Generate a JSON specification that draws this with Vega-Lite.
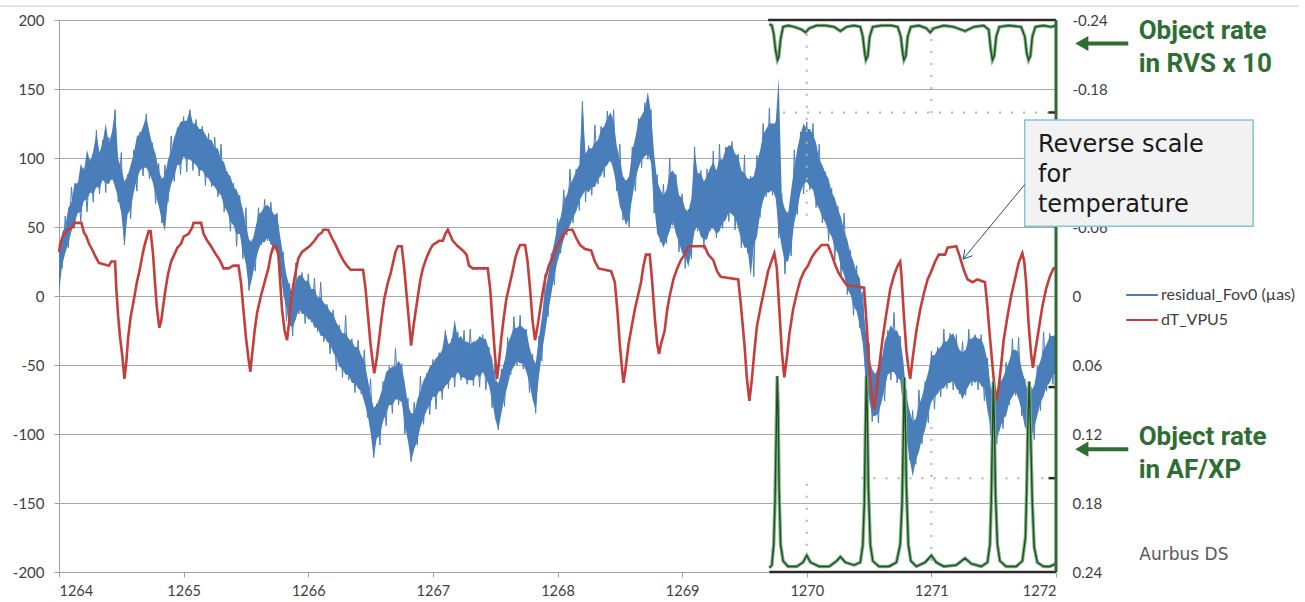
{
"$schema": "https://vega.github.io/schema/vega-lite/v6.json",
"width": 997, "height": 552,
"autosize": {"type": "none"},
"padding": {"left": 59, "top": 20, "right": 249, "bottom": 30},
"background": "white",
"config": {
  "view": {"stroke": null},
  "font": "Lato",
  "axis": {"labelFont": "Lato", "labelColor": "#404040", "labelFontSize": 15, "domainColor": "#a0a0a0", "tickColor": "#a0a0a0", "gridColor": "#a8a8a8", "gridWidth": 1}
},
"datasets": {
"blue": [
{"t":1264,"lo":2,"hi":28,"z":33},{"t":1264.025,"lo":22,"hi":46,"z":20},{"t":1264.05,"lo":31,"hi":50,"z":58},{"t":1264.075,"lo":38,"hi":64,"z":35},{"t":1264.1,"lo":47,"hi":68,"z":79},{"t":1264.125,"lo":53,"hi":82,"z":49},{"t":1264.15,"lo":60,"hi":81,"z":82},{"t":1264.175,"lo":61,"hi":96,"z":54},{"t":1264.2,"lo":69,"hi":90,"z":93},{"t":1264.225,"lo":70,"hi":106,"z":61},
{"t":1264.25,"lo":75,"hi":97,"z":99},{"t":1264.275,"lo":74,"hi":105,"z":68},{"t":1264.3,"lo":79,"hi":118,"z":120},{"t":1264.325,"lo":78,"hi":104,"z":74},{"t":1264.35,"lo":84,"hi":111,"z":113},{"t":1264.375,"lo":82,"hi":125,"z":75},{"t":1264.4,"lo":81,"hi":110,"z":115},{"t":1264.425,"lo":86,"hi":119,"z":84},{"t":1264.45,"lo":79,"hi":135,"z":135},{"t":1264.475,"lo":71,"hi":99,"z":68},
{"t":1264.5,"lo":60,"hi":93,"z":104},{"t":1264.525,"lo":37,"hi":83,"z":37},{"t":1264.55,"lo":59,"hi":87,"z":88},{"t":1264.575,"lo":63,"hi":95,"z":56},{"t":1264.6,"lo":75,"hi":103,"z":106},{"t":1264.625,"lo":85,"hi":116,"z":76},{"t":1264.65,"lo":91,"hi":117,"z":119},{"t":1264.675,"lo":93,"hi":123,"z":87},{"t":1264.7,"lo":93,"hi":130,"z":132},{"t":1264.725,"lo":89,"hi":119,"z":85},
{"t":1264.75,"lo":83,"hi":109,"z":111},{"t":1264.775,"lo":74,"hi":103,"z":67},{"t":1264.8,"lo":65,"hi":91,"z":96},{"t":1264.825,"lo":55,"hi":85,"z":53},{"t":1264.85,"lo":47,"hi":87,"z":95},{"t":1264.875,"lo":71,"hi":99,"z":68},{"t":1264.9,"lo":81,"hi":105,"z":116},{"t":1264.925,"lo":87,"hi":115,"z":83},{"t":1264.95,"lo":95,"hi":121,"z":122},{"t":1264.975,"lo":95,"hi":126,"z":88},
{"t":1265,"lo":101,"hi":127,"z":130},{"t":1265.025,"lo":99,"hi":127,"z":90},{"t":1265.05,"lo":99,"hi":135,"z":135},{"t":1265.075,"lo":97,"hi":125,"z":91},{"t":1265.1,"lo":95,"hi":125,"z":128},{"t":1265.125,"lo":91,"hi":121,"z":87},{"t":1265.15,"lo":91,"hi":121,"z":123},{"t":1265.175,"lo":87,"hi":117,"z":80},{"t":1265.2,"lo":85,"hi":113,"z":118},{"t":1265.225,"lo":81,"hi":113,"z":79},
{"t":1265.25,"lo":79,"hi":107,"z":115},{"t":1265.275,"lo":75,"hi":107,"z":72},{"t":1265.3,"lo":73,"hi":99,"z":110},{"t":1265.325,"lo":65,"hi":97,"z":61},{"t":1265.35,"lo":61,"hi":89,"z":90},{"t":1265.375,"lo":54,"hi":87,"z":47},{"t":1265.4,"lo":51,"hi":79,"z":82},{"t":1265.425,"lo":45,"hi":77,"z":36},{"t":1265.45,"lo":45,"hi":71,"z":73},{"t":1265.475,"lo":33,"hi":63,"z":27},
{"t":1265.5,"lo":23,"hi":51,"z":64},{"t":1265.525,"lo":4,"hi":41,"z":4},{"t":1265.55,"lo":13,"hi":39,"z":41},{"t":1265.575,"lo":25,"hi":49,"z":18},{"t":1265.6,"lo":33,"hi":59,"z":64},{"t":1265.625,"lo":39,"hi":61,"z":37},{"t":1265.65,"lo":39,"hi":65,"z":70},{"t":1265.675,"lo":43,"hi":66,"z":40},{"t":1265.7,"lo":37,"hi":63,"z":68},{"t":1265.725,"lo":37,"hi":59,"z":33},
{"t":1265.75,"lo":31,"hi":59,"z":60},{"t":1265.775,"lo":19,"hi":43,"z":12},{"t":1265.8,"lo":1,"hi":29,"z":32},{"t":1265.825,"lo":-9,"hi":15,"z":-18},{"t":1265.85,"lo":-21,"hi":7,"z":9},{"t":1265.875,"lo":-23,"hi":1,"z":-29},{"t":1265.9,"lo":-17,"hi":11,"z":24},{"t":1265.925,"lo":-9,"hi":15,"z":-13},{"t":1265.95,"lo":-13,"hi":15,"z":17},{"t":1265.975,"lo":-13,"hi":11,"z":-20},
{"t":1266,"lo":-17,"hi":11,"z":16},{"t":1266.025,"lo":-17,"hi":5,"z":-19},{"t":1266.05,"lo":-23,"hi":5,"z":13},{"t":1266.075,"lo":-23,"hi":-1,"z":-26},{"t":1266.1,"lo":-29,"hi":-1,"z":10},{"t":1266.125,"lo":-29,"hi":-5,"z":-33},{"t":1266.15,"lo":-33,"hi":-7,"z":-6},{"t":1266.175,"lo":-35,"hi":-11,"z":-42},{"t":1266.2,"lo":-41,"hi":-13,"z":-10},{"t":1266.225,"lo":-45,"hi":-19,"z":-54},
{"t":1266.25,"lo":-51,"hi":-23,"z":-21},{"t":1266.275,"lo":-53,"hi":-27,"z":-59},{"t":1266.3,"lo":-57,"hi":-27,"z":-14},{"t":1266.325,"lo":-57,"hi":-31,"z":-61},{"t":1266.35,"lo":-63,"hi":-33,"z":-31},{"t":1266.375,"lo":-63,"hi":-37,"z":-70},{"t":1266.4,"lo":-67,"hi":-37,"z":-32},{"t":1266.425,"lo":-69,"hi":-43,"z":-71},{"t":1266.45,"lo":-77,"hi":-47,"z":-39},{"t":1266.475,"lo":-85,"hi":-59,"z":-88},
{"t":1266.5,"lo":-99,"hi":-71,"z":-60},{"t":1266.525,"lo":-117,"hi":-81,"z":-117},{"t":1266.55,"lo":-103,"hi":-79,"z":-78},{"t":1266.575,"lo":-101,"hi":-73,"z":-108},{"t":1266.6,"lo":-91,"hi":-65,"z":-62},{"t":1266.625,"lo":-85,"hi":-55,"z":-94},{"t":1266.65,"lo":-79,"hi":-53,"z":-51},{"t":1266.675,"lo":-79,"hi":-51,"z":-85},{"t":1266.7,"lo":-75,"hi":-51,"z":-38},{"t":1266.725,"lo":-75,"hi":-47,"z":-79},
{"t":1266.75,"lo":-77,"hi":-51,"z":-49},{"t":1266.775,"lo":-93,"hi":-63,"z":-100},{"t":1266.8,"lo":-105,"hi":-79,"z":-74},{"t":1266.825,"lo":-120,"hi":-85,"z":-120},{"t":1266.85,"lo":-111,"hi":-85,"z":-77},{"t":1266.875,"lo":-105,"hi":-75,"z":-108},{"t":1266.9,"lo":-95,"hi":-69,"z":-58},{"t":1266.925,"lo":-89,"hi":-61,"z":-93},{"t":1266.95,"lo":-83,"hi":-57,"z":-56},{"t":1266.975,"lo":-79,"hi":-51,"z":-86},
{"t":1267,"lo":-73,"hi":-49,"z":-46},{"t":1267.025,"lo":-73,"hi":-45,"z":-82},{"t":1267.05,"lo":-69,"hi":-43,"z":-41},{"t":1267.075,"lo":-69,"hi":-39,"z":-75},{"t":1267.1,"lo":-65,"hi":-25,"z":-25},{"t":1267.125,"lo":-63,"hi":-35,"z":-67},{"t":1267.15,"lo":-59,"hi":-33,"z":-31},{"t":1267.175,"lo":-59,"hi":-17,"z":-66},{"t":1267.2,"lo":-55,"hi":-31,"z":-26},{"t":1267.225,"lo":-59,"hi":-29,"z":-61},
{"t":1267.25,"lo":-59,"hi":-33,"z":-25},{"t":1267.275,"lo":-61,"hi":-33,"z":-64},{"t":1267.3,"lo":-61,"hi":-35,"z":-24},{"t":1267.325,"lo":-61,"hi":-33,"z":-65},{"t":1267.35,"lo":-57,"hi":-33,"z":-32},{"t":1267.375,"lo":-59,"hi":-29,"z":-66},{"t":1267.4,"lo":-55,"hi":-31,"z":-28},{"t":1267.425,"lo":-59,"hi":-31,"z":-68},{"t":1267.45,"lo":-65,"hi":-39,"z":-37},{"t":1267.475,"lo":-75,"hi":-45,"z":-81},
{"t":1267.5,"lo":-89,"hi":-61,"z":-48},{"t":1267.525,"lo":-97,"hi":-63,"z":-97},{"t":1267.55,"lo":-85,"hi":-55,"z":-53},{"t":1267.575,"lo":-73,"hi":-47,"z":-80},{"t":1267.6,"lo":-65,"hi":-35,"z":-30},{"t":1267.625,"lo":-55,"hi":-29,"z":-57},{"t":1267.65,"lo":-51,"hi":-23,"z":-15},{"t":1267.675,"lo":-47,"hi":-23,"z":-50},{"t":1267.7,"lo":-49,"hi":-21,"z":-14},{"t":1267.725,"lo":-49,"hi":-23,"z":-53},
{"t":1267.75,"lo":-55,"hi":-25,"z":-24},{"t":1267.775,"lo":-63,"hi":-37,"z":-70},{"t":1267.8,"lo":-75,"hi":-45,"z":-42},{"t":1267.825,"lo":-83,"hi":-49,"z":-85},{"t":1267.85,"lo":-59,"hi":-31,"z":-29},{"t":1267.875,"lo":-41,"hi":-15,"z":-47},{"t":1267.9,"lo":-27,"hi":3,"z":16},{"t":1267.925,"lo":-11,"hi":15,"z":-15},{"t":1267.95,"lo":1,"hi":29,"z":31},{"t":1267.975,"lo":15,"hi":39,"z":8},
{"t":1268,"lo":25,"hi":51,"z":56},{"t":1268.025,"lo":33,"hi":57,"z":31},{"t":1268.05,"lo":41,"hi":69,"z":77},{"t":1268.075,"lo":47,"hi":73,"z":44},{"t":1268.1,"lo":51,"hi":81,"z":92},{"t":1268.125,"lo":57,"hi":85,"z":53},{"t":1268.15,"lo":61,"hi":91,"z":92},{"t":1268.175,"lo":69,"hi":95,"z":62},{"t":1268.2,"lo":73,"hi":141,"z":141},{"t":1268.225,"lo":77,"hi":103,"z":68},
{"t":1268.25,"lo":75,"hi":107,"z":109},{"t":1268.275,"lo":79,"hi":107,"z":73},{"t":1268.3,"lo":79,"hi":111,"z":124},{"t":1268.325,"lo":85,"hi":113,"z":81},{"t":1268.35,"lo":87,"hi":121,"z":123},{"t":1268.375,"lo":93,"hi":123,"z":86},{"t":1268.4,"lo":95,"hi":129,"z":134},{"t":1268.425,"lo":99,"hi":133,"z":97},{"t":1268.45,"lo":91,"hi":127,"z":135},{"t":1268.475,"lo":79,"hi":109,"z":76},
{"t":1268.5,"lo":65,"hi":99,"z":110},{"t":1268.525,"lo":59,"hi":87,"z":55},{"t":1268.55,"lo":51,"hi":83,"z":84},{"t":1268.575,"lo":57,"hi":87,"z":50},{"t":1268.6,"lo":71,"hi":105,"z":108},{"t":1268.625,"lo":85,"hi":115,"z":76},{"t":1268.65,"lo":93,"hi":127,"z":129},{"t":1268.675,"lo":99,"hi":131,"z":93},{"t":1268.7,"lo":101,"hi":135,"z":140},{"t":1268.725,"lo":103,"hi":148,"z":99},
{"t":1268.75,"lo":97,"hi":133,"z":135},{"t":1268.775,"lo":67,"hi":103,"z":60},{"t":1268.8,"lo":45,"hi":83,"z":88},{"t":1268.825,"lo":41,"hi":77,"z":39},{"t":1268.85,"lo":35,"hi":73,"z":81},{"t":1268.875,"lo":41,"hi":77,"z":38},{"t":1268.9,"lo":47,"hi":89,"z":100},{"t":1268.925,"lo":55,"hi":91,"z":51},{"t":1268.95,"lo":45,"hi":87,"z":88},{"t":1268.975,"lo":39,"hi":73,"z":32},
{"t":1269,"lo":31,"hi":71,"z":74},{"t":1269.025,"lo":29,"hi":63,"z":20},{"t":1269.05,"lo":21,"hi":61,"z":63},{"t":1269.075,"lo":33,"hi":71,"z":27},{"t":1269.1,"lo":47,"hi":105,"z":108},{"t":1269.125,"lo":51,"hi":89,"z":47},{"t":1269.15,"lo":43,"hi":89,"z":91},{"t":1269.175,"lo":41,"hi":83,"z":34},{"t":1269.2,"lo":41,"hi":87,"z":92},{"t":1269.225,"lo":49,"hi":93,"z":47},
{"t":1269.25,"lo":49,"hi":97,"z":105},{"t":1269.275,"lo":45,"hi":91,"z":42},{"t":1269.3,"lo":47,"hi":99,"z":110},{"t":1269.325,"lo":53,"hi":99,"z":49},{"t":1269.35,"lo":55,"hi":107,"z":108},{"t":1269.375,"lo":61,"hi":109,"z":54},{"t":1269.4,"lo":59,"hi":109,"z":112},{"t":1269.425,"lo":57,"hi":103,"z":48},{"t":1269.45,"lo":49,"hi":101,"z":103},{"t":1269.475,"lo":41,"hi":91,"z":35},
{"t":1269.5,"lo":35,"hi":89,"z":102},{"t":1269.525,"lo":35,"hi":85,"z":31},{"t":1269.55,"lo":14,"hi":85,"z":87},{"t":1269.575,"lo":37,"hi":87,"z":14},{"t":1269.6,"lo":43,"hi":97,"z":102},{"t":1269.625,"lo":59,"hi":105,"z":57},{"t":1269.65,"lo":69,"hi":117,"z":125},{"t":1269.675,"lo":75,"hi":121,"z":72},{"t":1269.7,"lo":75,"hi":125,"z":136},{"t":1269.725,"lo":77,"hi":125,"z":73},
{"t":1269.75,"lo":71,"hi":125,"z":126},{"t":1269.775,"lo":49,"hi":158,"z":42},{"t":1269.8,"lo":35,"hi":71,"z":74},{"t":1269.825,"lo":25,"hi":63,"z":16},{"t":1269.85,"lo":25,"hi":59,"z":61},{"t":1269.875,"lo":35,"hi":77,"z":29},{"t":1269.9,"lo":53,"hi":93,"z":106},{"t":1269.925,"lo":63,"hi":107,"z":59},{"t":1269.95,"lo":75,"hi":117,"z":119},{"t":1269.975,"lo":81,"hi":125,"z":74},
{"t":1270,"lo":83,"hi":121,"z":126},{"t":1270.025,"lo":79,"hi":121,"z":77},{"t":1270.05,"lo":77,"hi":117,"z":125},{"t":1270.075,"lo":67,"hi":111,"z":64},{"t":1270.1,"lo":63,"hi":99,"z":110},{"t":1270.125,"lo":57,"hi":95,"z":53},{"t":1270.15,"lo":53,"hi":89,"z":90},{"t":1270.175,"lo":47,"hi":85,"z":40},{"t":1270.2,"lo":43,"hi":75,"z":78},{"t":1270.225,"lo":35,"hi":71,"z":26},
{"t":1270.25,"lo":31,"hi":63,"z":65},{"t":1270.275,"lo":21,"hi":57,"z":15},{"t":1270.3,"lo":15,"hi":47,"z":60},{"t":1270.325,"lo":5,"hi":41,"z":1},{"t":1270.35,"lo":1,"hi":31,"z":33},{"t":1270.375,"lo":-7,"hi":25,"z":-14},{"t":1270.4,"lo":-11,"hi":17,"z":22},{"t":1270.425,"lo":-21,"hi":13,"z":-23},{"t":1270.45,"lo":-35,"hi":-5,"z":3},{"t":1270.475,"lo":-63,"hi":-27,"z":-66},
{"t":1270.5,"lo":-75,"hi":-45,"z":-34},{"t":1270.525,"lo":-87,"hi":-53,"z":-91},{"t":1270.55,"lo":-87,"hi":-57,"z":-56},{"t":1270.575,"lo":-85,"hi":-51,"z":-92},{"t":1270.6,"lo":-77,"hi":-47,"z":-44},{"t":1270.625,"lo":-67,"hi":-33,"z":-76},{"t":1270.65,"lo":-57,"hi":-27,"z":-25},{"t":1270.675,"lo":-55,"hi":-21,"z":-61},{"t":1270.7,"lo":-55,"hi":-25,"z":-12},{"t":1270.725,"lo":-59,"hi":-25,"z":-63},
{"t":1270.75,"lo":-61,"hi":-31,"z":-29},{"t":1270.775,"lo":-81,"hi":-47,"z":-88},{"t":1270.8,"lo":-103,"hi":-73,"z":-68},{"t":1270.825,"lo":-117,"hi":-83,"z":-119},{"t":1270.85,"lo":-131,"hi":-91,"z":-83},{"t":1270.875,"lo":-119,"hi":-89,"z":-122},{"t":1270.9,"lo":-113,"hi":-79,"z":-68},{"t":1270.925,"lo":-103,"hi":-73,"z":-107},{"t":1270.95,"lo":-97,"hi":-63,"z":-62},{"t":1270.975,"lo":-85,"hi":-55,"z":-92},
{"t":1271,"lo":-77,"hi":-43,"z":-40},{"t":1271.025,"lo":-73,"hi":-43,"z":-82},{"t":1271.05,"lo":-71,"hi":-39,"z":-37},{"t":1271.075,"lo":-67,"hi":-37,"z":-73},{"t":1271.1,"lo":-67,"hi":-33,"z":-24},{"t":1271.125,"lo":-63,"hi":-33,"z":-67},{"t":1271.15,"lo":-63,"hi":-29,"z":-27},{"t":1271.175,"lo":-61,"hi":-27,"z":-68},{"t":1271.2,"lo":-67,"hi":-33,"z":-28},{"t":1271.225,"lo":-69,"hi":-39,"z":-71},
{"t":1271.25,"lo":-75,"hi":-41,"z":-33},{"t":1271.275,"lo":-69,"hi":-39,"z":-72},{"t":1271.3,"lo":-65,"hi":-31,"z":-24},{"t":1271.325,"lo":-61,"hi":-31,"z":-65},{"t":1271.35,"lo":-63,"hi":-29,"z":-28},{"t":1271.375,"lo":-61,"hi":-31,"z":-68},{"t":1271.4,"lo":-65,"hi":-31,"z":-28},{"t":1271.425,"lo":-67,"hi":-37,"z":-76},{"t":1271.45,"lo":-83,"hi":-47,"z":-45},{"t":1271.475,"lo":-95,"hi":-65,"z":-101},
{"t":1271.5,"lo":-107,"hi":-73,"z":-60},{"t":1271.525,"lo":-103,"hi":-73,"z":-107},{"t":1271.55,"lo":-97,"hi":-63,"z":-61},{"t":1271.575,"lo":-89,"hi":-59,"z":-96},{"t":1271.6,"lo":-87,"hi":-53,"z":-48},{"t":1271.625,"lo":-77,"hi":-47,"z":-79},{"t":1271.65,"lo":-73,"hi":-39,"z":-31},{"t":1271.675,"lo":-69,"hi":-39,"z":-72},{"t":1271.7,"lo":-75,"hi":-41,"z":-30},{"t":1271.725,"lo":-83,"hi":-53,"z":-87},
{"t":1271.75,"lo":-95,"hi":-61,"z":-60},{"t":1271.775,"lo":-99,"hi":-69,"z":-106},{"t":1271.8,"lo":-103,"hi":-69,"z":-66},{"t":1271.825,"lo":-95,"hi":-65,"z":-104},{"t":1271.85,"lo":-87,"hi":-53,"z":-51},{"t":1271.875,"lo":-77,"hi":-47,"z":-83},{"t":1271.9,"lo":-73,"hi":-39,"z":-26},{"t":1271.925,"lo":-65,"hi":-35,"z":-69},{"t":1271.95,"lo":-63,"hi":-29,"z":-27},{"t":1271.975,"lo":-57,"hi":-29,"z":-64},
{"t":1272,"lo":-56,"hi":-28,"z":-23}
],
"red": [
{"t":1264,"dT":-0.0384},{"t":1264.01,"dT":-0.0456},{"t":1264.03,"dT":-0.0516},{"t":1264.07,"dT":-0.0576},{"t":1264.11,"dT":-0.06},{"t":1264.12,"dT":-0.0636},{"t":1264.18,"dT":-0.0636},{"t":1264.2,"dT":-0.0552},{"t":1264.22,"dT":-0.0516},{"t":1264.24,"dT":-0.0456},
{"t":1264.27,"dT":-0.0396},{"t":1264.29,"dT":-0.0348},{"t":1264.32,"dT":-0.0288},{"t":1264.4,"dT":-0.0264},{"t":1264.42,"dT":-0.03},{"t":1264.45,"dT":-0.03},{"t":1264.46,"dT":-0.006},{"t":1264.475,"dT":0.018},{"t":1264.49,"dT":0.036},{"t":1264.51,"dT":0.054},
{"t":1264.525,"dT":0.072},{"t":1264.54,"dT":0.0576},{"t":1264.555,"dT":0.036},{"t":1264.575,"dT":0.018},{"t":1264.6,"dT":0.0036},{"t":1264.625,"dT":-0.012},{"t":1264.65,"dT":-0.024},{"t":1264.67,"dT":-0.036},{"t":1264.69,"dT":-0.0456},{"t":1264.72,"dT":-0.0564},
{"t":1264.735,"dT":-0.0564},{"t":1264.755,"dT":-0.036},{"t":1264.77,"dT":-0.012},{"t":1264.785,"dT":0.0096},{"t":1264.805,"dT":0.0276},{"t":1264.82,"dT":0.0216},{"t":1264.835,"dT":0.0096},{"t":1264.855,"dT":-0.006},{"t":1264.875,"dT":-0.0192},{"t":1264.9,"dT":-0.03},
{"t":1264.925,"dT":-0.036},{"t":1264.95,"dT":-0.042},{"t":1264.98,"dT":-0.0456},{"t":1265,"dT":-0.0516},{"t":1265.04,"dT":-0.054},{"t":1265.07,"dT":-0.06},{"t":1265.08,"dT":-0.0636},{"t":1265.14,"dT":-0.0636},{"t":1265.16,"dT":-0.054},{"t":1265.19,"dT":-0.048},
{"t":1265.22,"dT":-0.0432},{"t":1265.26,"dT":-0.036},{"t":1265.29,"dT":-0.0312},{"t":1265.32,"dT":-0.024},{"t":1265.36,"dT":-0.024},{"t":1265.4,"dT":-0.0264},{"t":1265.44,"dT":-0.0264},{"t":1265.46,"dT":-0.012},{"t":1265.48,"dT":0.012},{"t":1265.5,"dT":0.036},
{"t":1265.52,"dT":0.054},{"t":1265.535,"dT":0.066},{"t":1265.55,"dT":0.0504},{"t":1265.57,"dT":0.03},{"t":1265.59,"dT":0.0144},{"t":1265.62,"dT":0},{"t":1265.65,"dT":-0.012},{"t":1265.68,"dT":-0.024},{"t":1265.7,"dT":-0.036},{"t":1265.72,"dT":-0.0432},
{"t":1265.74,"dT":-0.0432},{"t":1265.76,"dT":-0.036},{"t":1265.775,"dT":-0.012},{"t":1265.79,"dT":0.012},{"t":1265.81,"dT":0.03},{"t":1265.83,"dT":0.0384},{"t":1265.845,"dT":0.024},{"t":1265.86,"dT":0.006},{"t":1265.88,"dT":-0.0096},{"t":1265.9,"dT":-0.0216},
{"t":1265.92,"dT":-0.0324},{"t":1265.95,"dT":-0.0384},{"t":1265.98,"dT":-0.0408},{"t":1266.01,"dT":-0.0432},{"t":1266.05,"dT":-0.048},{"t":1266.08,"dT":-0.0528},{"t":1266.11,"dT":-0.0552},{"t":1266.12,"dT":-0.0576},{"t":1266.16,"dT":-0.0576},{"t":1266.19,"dT":-0.0504},
{"t":1266.22,"dT":-0.0444},{"t":1266.25,"dT":-0.0372},{"t":1266.28,"dT":-0.0312},{"t":1266.31,"dT":-0.0264},{"t":1266.34,"dT":-0.0228},{"t":1266.44,"dT":-0.0228},{"t":1266.46,"dT":-0.006},{"t":1266.48,"dT":0.018},{"t":1266.5,"dT":0.042},{"t":1266.52,"dT":0.06},
{"t":1266.53,"dT":0.0672},{"t":1266.55,"dT":0.054},{"t":1266.57,"dT":0.036},{"t":1266.59,"dT":0.018},{"t":1266.61,"dT":0.0024},{"t":1266.64,"dT":-0.012},{"t":1266.66,"dT":-0.0192},{"t":1266.68,"dT":-0.0288},{"t":1266.7,"dT":-0.0384},{"t":1266.72,"dT":-0.0432},
{"t":1266.75,"dT":-0.0432},{"t":1266.77,"dT":-0.024},{"t":1266.79,"dT":0},{"t":1266.81,"dT":0.024},{"t":1266.825,"dT":0.0432},{"t":1266.84,"dT":0.03},{"t":1266.86,"dT":0.0144},{"t":1266.88,"dT":0},{"t":1266.9,"dT":-0.0144},{"t":1266.92,"dT":-0.024},
{"t":1266.95,"dT":-0.0336},{"t":1266.98,"dT":-0.0408},{"t":1267,"dT":-0.0444},{"t":1267.05,"dT":-0.048},{"t":1267.08,"dT":-0.048},{"t":1267.1,"dT":-0.054},{"t":1267.12,"dT":-0.0576},{"t":1267.14,"dT":-0.0528},{"t":1267.16,"dT":-0.048},{"t":1267.2,"dT":-0.0432},
{"t":1267.24,"dT":-0.0396},{"t":1267.27,"dT":-0.036},{"t":1267.29,"dT":-0.0264},{"t":1267.32,"dT":-0.024},{"t":1267.44,"dT":-0.024},{"t":1267.46,"dT":-0.006},{"t":1267.48,"dT":0.024},{"t":1267.5,"dT":0.054},{"t":1267.515,"dT":0.072},{"t":1267.53,"dT":0.0576},
{"t":1267.55,"dT":0.036},{"t":1267.57,"dT":0.018},{"t":1267.59,"dT":0.0024},{"t":1267.62,"dT":-0.012},{"t":1267.64,"dT":-0.0216},{"t":1267.66,"dT":-0.0324},{"t":1267.68,"dT":-0.0396},{"t":1267.7,"dT":-0.0444},{"t":1267.74,"dT":-0.0444},{"t":1267.76,"dT":-0.03},
{"t":1267.78,"dT":-0.006},{"t":1267.8,"dT":0.0216},{"t":1267.82,"dT":0.0384},{"t":1267.84,"dT":0.0264},{"t":1267.86,"dT":0.012},{"t":1267.88,"dT":-0.0024},{"t":1267.9,"dT":-0.0144},{"t":1267.93,"dT":-0.0264},{"t":1267.96,"dT":-0.0336},{"t":1267.99,"dT":-0.042},
{"t":1268.02,"dT":-0.048},{"t":1268.05,"dT":-0.054},{"t":1268.08,"dT":-0.0576},{"t":1268.12,"dT":-0.0576},{"t":1268.15,"dT":-0.0504},{"t":1268.18,"dT":-0.0444},{"t":1268.22,"dT":-0.0408},{"t":1268.27,"dT":-0.0396},{"t":1268.3,"dT":-0.03},{"t":1268.33,"dT":-0.024},
{"t":1268.43,"dT":-0.0216},{"t":1268.46,"dT":-0.012},{"t":1268.48,"dT":0.012},{"t":1268.5,"dT":0.042},{"t":1268.52,"dT":0.066},{"t":1268.53,"dT":0.0756},{"t":1268.55,"dT":0.06},{"t":1268.57,"dT":0.042},{"t":1268.6,"dT":0.024},{"t":1268.62,"dT":0.012},
{"t":1268.65,"dT":-0.0024},{"t":1268.67,"dT":-0.012},{"t":1268.69,"dT":-0.0264},{"t":1268.71,"dT":-0.036},{"t":1268.74,"dT":-0.036},{"t":1268.76,"dT":-0.012},{"t":1268.78,"dT":0.018},{"t":1268.8,"dT":0.042},{"t":1268.815,"dT":0.0504},{"t":1268.83,"dT":0.042},
{"t":1268.86,"dT":0.03},{"t":1268.88,"dT":0.012},{"t":1268.9,"dT":0},{"t":1268.93,"dT":-0.0144},{"t":1268.96,"dT":-0.024},{"t":1268.99,"dT":-0.0312},{"t":1269.02,"dT":-0.036},{"t":1269.05,"dT":-0.0432},{"t":1269.18,"dT":-0.0432},{"t":1269.21,"dT":-0.036},
{"t":1269.25,"dT":-0.0312},{"t":1269.28,"dT":-0.0216},{"t":1269.31,"dT":-0.0168},{"t":1269.45,"dT":-0.0144},{"t":1269.47,"dT":0.006},{"t":1269.5,"dT":0.042},{"t":1269.52,"dT":0.072},{"t":1269.54,"dT":0.0912},{"t":1269.56,"dT":0.072},{"t":1269.58,"dT":0.048},
{"t":1269.6,"dT":0.0264},{"t":1269.63,"dT":0.0096},{"t":1269.66,"dT":-0.006},{"t":1269.69,"dT":-0.0216},{"t":1269.72,"dT":-0.0312},{"t":1269.74,"dT":-0.0372},{"t":1269.76,"dT":-0.024},{"t":1269.78,"dT":0.012},{"t":1269.8,"dT":0.048},{"t":1269.82,"dT":0.0708},
{"t":1269.84,"dT":0.054},{"t":1269.86,"dT":0.0336},{"t":1269.89,"dT":0.012},{"t":1269.92,"dT":-0.0024},{"t":1269.95,"dT":-0.0144},{"t":1269.98,"dT":-0.0216},{"t":1270.01,"dT":-0.0264},{"t":1270.04,"dT":-0.0336},{"t":1270.07,"dT":-0.0384},{"t":1270.1,"dT":-0.042},
{"t":1270.12,"dT":-0.0444},{"t":1270.17,"dT":-0.0444},{"t":1270.2,"dT":-0.036},{"t":1270.23,"dT":-0.0264},{"t":1270.26,"dT":-0.0192},{"t":1270.29,"dT":-0.0144},{"t":1270.32,"dT":-0.0096},{"t":1270.46,"dT":-0.0072},{"t":1270.48,"dT":0.024},{"t":1270.5,"dT":0.06},
{"t":1270.52,"dT":0.084},{"t":1270.54,"dT":0.0984},{"t":1270.56,"dT":0.084},{"t":1270.58,"dT":0.0624},{"t":1270.61,"dT":0.036},{"t":1270.64,"dT":0.0144},{"t":1270.67,"dT":-0.006},{"t":1270.7,"dT":-0.018},{"t":1270.73,"dT":-0.0264},{"t":1270.75,"dT":-0.03},
{"t":1270.76,"dT":-0.018},{"t":1270.78,"dT":0.018},{"t":1270.8,"dT":0.048},{"t":1270.82,"dT":0.066},{"t":1270.83,"dT":0.072},{"t":1270.85,"dT":0.054},{"t":1270.88,"dT":0.03},{"t":1270.91,"dT":0.012},{"t":1270.94,"dT":-0.0024},{"t":1270.97,"dT":-0.0144},
{"t":1271,"dT":-0.0216},{"t":1271.03,"dT":-0.03},{"t":1271.06,"dT":-0.036},{"t":1271.11,"dT":-0.036},{"t":1271.13,"dT":-0.042},{"t":1271.2,"dT":-0.0432},{"t":1271.23,"dT":-0.0336},{"t":1271.26,"dT":-0.0228},{"t":1271.29,"dT":-0.0144},{"t":1271.33,"dT":-0.012},
{"t":1271.37,"dT":-0.0144},{"t":1271.43,"dT":-0.012},{"t":1271.45,"dT":0.0096},{"t":1271.47,"dT":0.036},{"t":1271.5,"dT":0.072},{"t":1271.52,"dT":0.0912},{"t":1271.54,"dT":0.0792},{"t":1271.56,"dT":0.06},{"t":1271.58,"dT":0.0384},{"t":1271.61,"dT":0.018},
{"t":1271.64,"dT":0},{"t":1271.67,"dT":-0.0144},{"t":1271.7,"dT":-0.0288},{"t":1271.73,"dT":-0.0372},{"t":1271.745,"dT":-0.03},{"t":1271.76,"dT":-0.012},{"t":1271.78,"dT":0.024},{"t":1271.8,"dT":0.0504},{"t":1271.815,"dT":0.0624},{"t":1271.83,"dT":0.0504},
{"t":1271.86,"dT":0.03},{"t":1271.89,"dT":0.0096},{"t":1271.92,"dT":-0.006},{"t":1271.95,"dT":-0.0168},{"t":1271.98,"dT":-0.024},{"t":1272,"dT":-0.0252}
],
"green": [
{"t":1269.7,"v":197,"trace":"RVS"},{"t":1269.72,"v":196,"trace":"RVS"},{"t":1269.735,"v":190,"trace":"RVS"},{"t":1269.75,"v":178,"trace":"RVS"},{"t":1269.765,"v":171,"trace":"RVS"},{"t":1269.775,"v":173,"trace":"RVS"},{"t":1269.79,"v":186,"trace":"RVS"},{"t":1269.81,"v":195,"trace":"RVS"},{"t":1269.85,"v":196,"trace":"RVS"},{"t":1269.9,"v":195,"trace":"RVS"},
{"t":1269.96,"v":193,"trace":"RVS"},{"t":1269.99,"v":191,"trace":"RVS"},{"t":1270.02,"v":194,"trace":"RVS"},{"t":1270.08,"v":196,"trace":"RVS"},{"t":1270.15,"v":196,"trace":"RVS"},{"t":1270.22,"v":195,"trace":"RVS"},{"t":1270.27,"v":192,"trace":"RVS"},{"t":1270.32,"v":195,"trace":"RVS"},{"t":1270.38,"v":196,"trace":"RVS"},{"t":1270.43,"v":195,"trace":"RVS"},
{"t":1270.45,"v":188,"trace":"RVS"},{"t":1270.465,"v":176,"trace":"RVS"},{"t":1270.475,"v":171,"trace":"RVS"},{"t":1270.49,"v":174,"trace":"RVS"},{"t":1270.505,"v":188,"trace":"RVS"},{"t":1270.53,"v":195,"trace":"RVS"},{"t":1270.6,"v":196,"trace":"RVS"},{"t":1270.68,"v":196,"trace":"RVS"},{"t":1270.73,"v":195,"trace":"RVS"},{"t":1270.755,"v":188,"trace":"RVS"},
{"t":1270.77,"v":176,"trace":"RVS"},{"t":1270.78,"v":171,"trace":"RVS"},{"t":1270.795,"v":174,"trace":"RVS"},{"t":1270.81,"v":188,"trace":"RVS"},{"t":1270.835,"v":195,"trace":"RVS"},{"t":1270.9,"v":196,"trace":"RVS"},{"t":1270.96,"v":194,"trace":"RVS"},{"t":1270.99,"v":191,"trace":"RVS"},{"t":1271.02,"v":194,"trace":"RVS"},{"t":1271.1,"v":196,"trace":"RVS"},
{"t":1271.18,"v":195,"trace":"RVS"},{"t":1271.27,"v":192,"trace":"RVS"},{"t":1271.34,"v":195,"trace":"RVS"},{"t":1271.42,"v":196,"trace":"RVS"},{"t":1271.46,"v":193,"trace":"RVS"},{"t":1271.475,"v":180,"trace":"RVS"},{"t":1271.49,"v":171,"trace":"RVS"},{"t":1271.505,"v":174,"trace":"RVS"},{"t":1271.52,"v":188,"trace":"RVS"},{"t":1271.545,"v":195,"trace":"RVS"},
{"t":1271.62,"v":196,"trace":"RVS"},{"t":1271.72,"v":195,"trace":"RVS"},{"t":1271.75,"v":188,"trace":"RVS"},{"t":1271.765,"v":176,"trace":"RVS"},{"t":1271.78,"v":171,"trace":"RVS"},{"t":1271.795,"v":174,"trace":"RVS"},{"t":1271.81,"v":188,"trace":"RVS"},{"t":1271.835,"v":195,"trace":"RVS"},{"t":1271.9,"v":196,"trace":"RVS"},{"t":1271.96,"v":195,"trace":"RVS"},
{"t":1272,"v":196,"trace":"RVS"},
{"t":1269.7,"v":-197,"trace":"AF"},{"t":1269.72,"v":-195,"trace":"AF"},{"t":1269.735,"v":-180,"trace":"AF"},{"t":1269.745,"v":-150,"trace":"AF"},{"t":1269.755,"v":-100,"trace":"AF"},{"t":1269.763,"v":-58,"trace":"AF"},{"t":1269.77,"v":-80,"trace":"AF"},{"t":1269.778,"v":-140,"trace":"AF"},{"t":1269.79,"v":-180,"trace":"AF"},{"t":1269.81,"v":-192,"trace":"AF"},
{"t":1269.85,"v":-196,"trace":"AF"},{"t":1269.92,"v":-196,"trace":"AF"},{"t":1269.97,"v":-193,"trace":"AF"},{"t":1270,"v":-188,"trace":"AF"},{"t":1270.03,"v":-193,"trace":"AF"},{"t":1270.1,"v":-196,"trace":"AF"},{"t":1270.18,"v":-196,"trace":"AF"},{"t":1270.24,"v":-192,"trace":"AF"},{"t":1270.27,"v":-189,"trace":"AF"},{"t":1270.31,"v":-193,"trace":"AF"},
{"t":1270.38,"v":-195,"trace":"AF"},{"t":1270.43,"v":-193,"trace":"AF"},{"t":1270.45,"v":-180,"trace":"AF"},{"t":1270.462,"v":-150,"trace":"AF"},{"t":1270.47,"v":-100,"trace":"AF"},{"t":1270.478,"v":-58,"trace":"AF"},{"t":1270.485,"v":-80,"trace":"AF"},{"t":1270.495,"v":-140,"trace":"AF"},{"t":1270.51,"v":-180,"trace":"AF"},{"t":1270.53,"v":-192,"trace":"AF"},
{"t":1270.58,"v":-196,"trace":"AF"},{"t":1270.66,"v":-196,"trace":"AF"},{"t":1270.72,"v":-193,"trace":"AF"},{"t":1270.75,"v":-180,"trace":"AF"},{"t":1270.765,"v":-150,"trace":"AF"},{"t":1270.775,"v":-100,"trace":"AF"},{"t":1270.783,"v":-59,"trace":"AF"},{"t":1270.79,"v":-85,"trace":"AF"},{"t":1270.8,"v":-140,"trace":"AF"},{"t":1270.815,"v":-180,"trace":"AF"},
{"t":1270.835,"v":-192,"trace":"AF"},{"t":1270.88,"v":-196,"trace":"AF"},{"t":1270.95,"v":-193,"trace":"AF"},{"t":1271,"v":-188,"trace":"AF"},{"t":1271.04,"v":-193,"trace":"AF"},{"t":1271.1,"v":-196,"trace":"AF"},{"t":1271.2,"v":-195,"trace":"AF"},{"t":1271.27,"v":-190,"trace":"AF"},{"t":1271.32,"v":-194,"trace":"AF"},{"t":1271.4,"v":-196,"trace":"AF"},
{"t":1271.45,"v":-193,"trace":"AF"},{"t":1271.47,"v":-180,"trace":"AF"},{"t":1271.48,"v":-150,"trace":"AF"},{"t":1271.49,"v":-100,"trace":"AF"},{"t":1271.497,"v":-62,"trace":"AF"},{"t":1271.505,"v":-90,"trace":"AF"},{"t":1271.515,"v":-145,"trace":"AF"},{"t":1271.53,"v":-180,"trace":"AF"},{"t":1271.55,"v":-192,"trace":"AF"},{"t":1271.6,"v":-196,"trace":"AF"},
{"t":1271.68,"v":-196,"trace":"AF"},{"t":1271.73,"v":-192,"trace":"AF"},{"t":1271.755,"v":-175,"trace":"AF"},{"t":1271.765,"v":-140,"trace":"AF"},{"t":1271.775,"v":-90,"trace":"AF"},{"t":1271.785,"v":-62,"trace":"AF"},{"t":1271.795,"v":-95,"trace":"AF"},{"t":1271.81,"v":-150,"trace":"AF"},{"t":1271.825,"v":-182,"trace":"AF"},{"t":1271.85,"v":-193,"trace":"AF"},
{"t":1271.9,"v":-196,"trace":"AF"},{"t":1271.95,"v":-196,"trace":"AF"},{"t":1272,"v":-194,"trace":"AF"}
],
"dots": [
{"t1":1270,"t2":1270,"v1":190,"v2":54},{"t1":1271,"t2":1271,"v1":195,"v2":127},{"t1":1269.81,"t2":1272,"v1":133,"v2":133},{"t1":1270.44,"t2":1272,"v1":-132,"v2":-132},{"t1":1270,"t2":1270,"v1":-136,"v2":-193},{"t1":1271,"t2":1271,"v1":-95,"v2":-194}
],
"frame": [
{"t1":1269.69,"t2":1272,"v1":200,"v2":200},{"t1":1269.7,"t2":1272,"v1":-200,"v2":-200},{"t1":1271.94,"t2":1272,"v1":133,"v2":133},{"t1":1271.94,"t2":1272,"v1":-132,"v2":-132},{"t1":1271.94,"t2":1272,"v1":-66,"v2":-66}
],
"edge": [{"t1":1272,"t2":1272,"v1":200,"v2":-200}],
"topline": [{"t1":1263.53,"t2":1273.95,"v1":210,"v2":210}],
"box": [{"t1":1271.749,"t2":1273.582,"v1":127.5,"v2":50.5}],
"boxtext": [{"t":1271.855,"v":104.1,"text":"Reverse scale"},{"t":1271.855,"v":82.4,"text":"for"},{"t":1271.855,"v":60.6,"text":"temperature"}],
"pointer": [{"t":1271.749,"v":80.8,"seg":"a"},{"t":1271.255,"v":26.7,"seg":"a"},{"t":1271.33,"v":29.2,"seg":"b"},{"t":1271.255,"v":26.7,"seg":"b"},{"t":1271.268,"v":33.8,"seg":"b"}],
"garrow": [{"t1":1272.22,"t2":1272.58,"v1":183,"v2":183},{"t1":1272.22,"t2":1272.58,"v1":-111,"v2":-111}],
"ghead": [{"t":1272.207,"v":183},{"t":1272.207,"v":-111}],
"gtext": [{"t":1272.663,"v":185.9,"text":"Object rate"},{"t":1272.663,"v":162.4,"text":"in RVS x 10"},{"t":1272.663,"v":-108,"text":"Object rate"},{"t":1272.663,"v":-131.6,"text":"in AF/XP"}],
"credit": [{"t":1272.669,"v":-191.5,"text":"Aurbus DS"}]
},
"layer": [
{
  "data": {"name": "blue"},
  "layer": [
    {"mark": {"type": "area", "color": "#4a7ebb", "opacity": 1},
     "encoding": {
       "x": {"field": "t", "type": "quantitative", "title": null, "scale": {"domain": [1264, 1272], "nice": false, "zero": false},
             "axis": {"values": [1264,1265,1266,1267,1268,1269,1270,1271,1272], "format": "d", "grid": false, "tickSize": 5, "labelPadding": 7, "labelFontSize": 14.5, "title": null}},
       "y": {"field": "hi", "type": "quantitative", "title": null, "scale": {"domain": [-200, 200], "nice": false, "zero": false},
             "axis": {"values": [-200,-150,-100,-50,0,50,100,150,200], "grid": true, "tickSize": 5, "labelPadding": 10, "title": null, "labelExpr": "replace(datum.label, '\u2212', '-')"}},
       "y2": {"field": "lo"}
     }},
    {"mark": {"type": "line", "strokeWidth": 1},
     "encoding": {
       "x": {"field": "t", "type": "quantitative", "title": null, "scale": {"domain": [1264, 1272], "nice": false, "zero": false}},
       "y": {"field": "z", "type": "quantitative", "title": null},
       "color": {"datum": "residual_Fov0 (µas)", "type": "nominal",
                 "scale": {"domain": ["residual_Fov0 (µas)", "dT_VPU5"], "range": ["#4a7ebb", "#c43e3b"]},
                 "legend": {"orient": "none", "legendX": 1066, "legendY": 258, "title": null, "symbolType": "stroke", "symbolSize": 1000, "symbolStrokeWidth": 2, "labelFont": "Lato", "labelFontSize": 16, "labelColor": "#404040", "labelOffset": 2, "rowPadding": 0, "padding": 0}}
     }}
  ]
},
{
  "data": {"name": "red"},
  "mark": {"type": "line", "strokeWidth": 2.6},
  "encoding": {
    "x": {"field": "t", "type": "quantitative", "title": null, "scale": {"domain": [1264, 1272], "nice": false, "zero": false}},
    "y": {"field": "dT", "type": "quantitative", "title": null, "scale": {"domain": [-0.24, 0.24], "reverse": true, "nice": false, "zero": false},
          "axis": {"orient": "right", "values": [-0.24,-0.18,-0.06,0,0.06,0.12,0.18,0.24], "format": ".2~f", "grid": false, "ticks": false, "domain": false, "labelPadding": 16, "title": null, "labelExpr": "replace(datum.label, '\u2212', '-')"}},
    "color": {"datum": "dT_VPU5", "type": "nominal"}
  }
},
{
  "layer": [
    {"data": {"name": "topline"}, "mark": {"type": "rule", "color": "#d6d6d6", "strokeWidth": 1.2},
     "encoding": {"x": {"field": "t1", "type": "quantitative", "title": null, "scale": {"domain": [1264, 1272], "nice": false, "zero": false}}, "x2": {"field": "t2"},
                  "y": {"field": "v1", "type": "quantitative", "axis": null, "scale": {"domain": [-200, 200], "nice": false, "zero": false}}, "y2": {"field": "v2"}}},
    {"data": {"name": "dots"}, "mark": {"type": "rule", "color": "#a9b6a9", "strokeWidth": 2, "strokeDash": [2, 10]},
     "encoding": {"x": {"field": "t1", "type": "quantitative", "title": null, "scale": {"domain": [1264, 1272], "nice": false, "zero": false}}, "x2": {"field": "t2"},
                  "y": {"field": "v1", "type": "quantitative", "axis": null, "scale": {"domain": [-200, 200], "nice": false, "zero": false}}, "y2": {"field": "v2"}}},
    {"data": {"name": "green"}, "mark": {"type": "line", "color": "#7fb482", "strokeWidth": 3.5},
     "encoding": {"x": {"field": "t", "type": "quantitative", "title": null, "scale": {"domain": [1264, 1272], "nice": false, "zero": false}},
                  "y": {"field": "v", "type": "quantitative", "axis": null, "scale": {"domain": [-200, 200], "nice": false, "zero": false}},
                  "detail": {"field": "trace", "type": "nominal"}}},
    {"data": {"name": "green"}, "mark": {"type": "line", "color": "#1f4d26", "strokeWidth": 1.4},
     "encoding": {"x": {"field": "t", "type": "quantitative", "title": null, "scale": {"domain": [1264, 1272], "nice": false, "zero": false}},
                  "y": {"field": "v", "type": "quantitative", "axis": null, "scale": {"domain": [-200, 200], "nice": false, "zero": false}},
                  "detail": {"field": "trace", "type": "nominal"}}},
    {"data": {"name": "frame"}, "mark": {"type": "rule", "color": "#2a2a2a", "strokeWidth": 2.5},
     "encoding": {"x": {"field": "t1", "type": "quantitative", "title": null, "scale": {"domain": [1264, 1272], "nice": false, "zero": false}}, "x2": {"field": "t2"},
                  "y": {"field": "v1", "type": "quantitative", "axis": null, "scale": {"domain": [-200, 200], "nice": false, "zero": false}}, "y2": {"field": "v2"}}},
    {"data": {"name": "edge"}, "mark": {"type": "rule", "color": "#2e6b34", "strokeWidth": 3},
     "encoding": {"x": {"field": "t1", "type": "quantitative", "title": null, "scale": {"domain": [1264, 1272], "nice": false, "zero": false}}, "x2": {"field": "t2"},
                  "y": {"field": "v1", "type": "quantitative", "axis": null, "scale": {"domain": [-200, 200], "nice": false, "zero": false}}, "y2": {"field": "v2"}}},
    {"data": {"name": "box"}, "mark": {"type": "rect", "fill": "#f2f2f2", "stroke": "#86c3d4", "strokeWidth": 1.5},
     "encoding": {"x": {"field": "t1", "type": "quantitative", "title": null, "scale": {"domain": [1264, 1272], "nice": false, "zero": false}}, "x2": {"field": "t2"},
                  "y": {"field": "v1", "type": "quantitative", "axis": null, "scale": {"domain": [-200, 200], "nice": false, "zero": false}}, "y2": {"field": "v2"}}},
    {"data": {"name": "boxtext"}, "mark": {"type": "text", "align": "left", "baseline": "alphabetic", "font": "DejaVu Sans", "fontSize": 24, "color": "#1a1a1a"},
     "encoding": {"x": {"field": "t", "type": "quantitative", "title": null, "scale": {"domain": [1264, 1272], "nice": false, "zero": false}},
                  "y": {"field": "v", "type": "quantitative", "axis": null, "scale": {"domain": [-200, 200], "nice": false, "zero": false}},
                  "text": {"field": "text"}}},
    {"data": {"name": "pointer"}, "mark": {"type": "line", "color": "#2b4a7a", "strokeWidth": 1},
     "encoding": {"x": {"field": "t", "type": "quantitative", "title": null, "scale": {"domain": [1264, 1272], "nice": false, "zero": false}},
                  "y": {"field": "v", "type": "quantitative", "axis": null, "scale": {"domain": [-200, 200], "nice": false, "zero": false}},
                  "detail": {"field": "seg", "type": "nominal"}, "order": {"value": null}}},
    {"data": {"name": "garrow"}, "mark": {"type": "rule", "color": "#2f6e33", "strokeWidth": 4},
     "encoding": {"x": {"field": "t1", "type": "quantitative", "title": null, "scale": {"domain": [1264, 1272], "nice": false, "zero": false}}, "x2": {"field": "t2"},
                  "y": {"field": "v1", "type": "quantitative", "axis": null, "scale": {"domain": [-200, 200], "nice": false, "zero": false}}, "y2": {"field": "v2"}}},
    {"data": {"name": "ghead"}, "mark": {"type": "point", "shape": "triangle-left", "filled": true, "color": "#2f6e33", "size": 230, "opacity": 1},
     "encoding": {"x": {"field": "t", "type": "quantitative", "title": null, "scale": {"domain": [1264, 1272], "nice": false, "zero": false}},
                  "y": {"field": "v", "type": "quantitative", "axis": null, "scale": {"domain": [-200, 200], "nice": false, "zero": false}}}},
    {"data": {"name": "gtext"}, "mark": {"type": "text", "align": "left", "baseline": "alphabetic", "font": "Roboto", "fontWeight": "bold", "fontSize": 26, "color": "#2f6e33"},
     "encoding": {"x": {"field": "t", "type": "quantitative", "title": null, "scale": {"domain": [1264, 1272], "nice": false, "zero": false}},
                  "y": {"field": "v", "type": "quantitative", "axis": null, "scale": {"domain": [-200, 200], "nice": false, "zero": false}},
                  "text": {"field": "text"}}},
    {"data": {"name": "credit"}, "mark": {"type": "text", "align": "left", "baseline": "alphabetic", "font": "DejaVu Sans", "fontSize": 17, "color": "#595959"},
     "encoding": {"x": {"field": "t", "type": "quantitative", "title": null, "scale": {"domain": [1264, 1272], "nice": false, "zero": false}},
                  "y": {"field": "v", "type": "quantitative", "axis": null, "scale": {"domain": [-200, 200], "nice": false, "zero": false}},
                  "text": {"field": "text"}}}
  ]
}
],
"resolve": {"scale": {"y": "independent"}}
}
